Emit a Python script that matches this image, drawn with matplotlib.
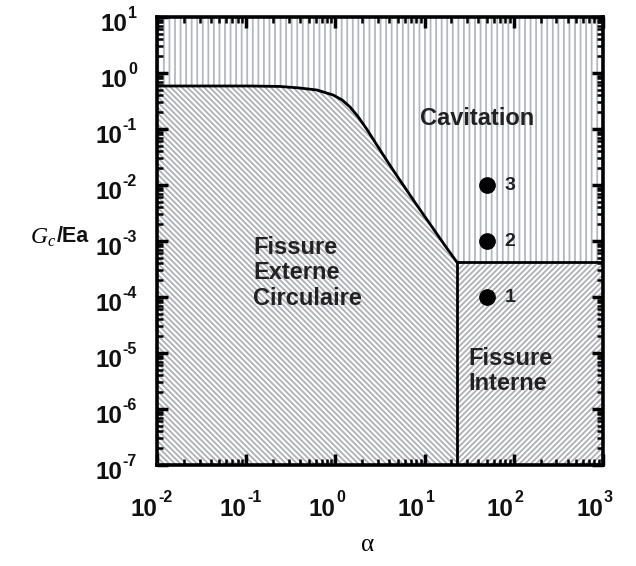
import matplotlib
matplotlib.use("Agg")
import matplotlib.pyplot as plt
import numpy as np
from matplotlib.ticker import LogLocator, NullFormatter

# ---------------- data ----------------
curve_alpha = [0.01, 0.11, 0.24, 0.40, 0.62, 0.94, 1.19, 1.46, 1.79, 2.26, 2.78,
               3.42, 4.31, 5.30, 8.22, 12.4, 16.9, 23.0]
curve_g = [0.586, 0.586, 0.575, 0.539, 0.497, 0.405, 0.330, 0.247, 0.167, 0.098,
           0.0584, 0.0348, 0.0198, 0.0121, 0.00433, 0.00169, 0.00083, 0.00042]
alpha_crit = 23.0
g_crit = 0.00042
pts_alpha = [50, 50, 50]
pts_g = [1e-4, 1e-3, 1e-2]
pts_labels = ["1", "2", "3"]
xlim = (1e-2, 1e3)
ylim = (1e-7, 1e1)
x_exps = [-2, -1, 0, 1, 2, 3]
y_exps = [-7, -6, -5, -4, -3, -2, -1, 0, 1]
region_labels = ["Cavitation", "Fissure\nExterne\nCirculaire", "Fissure\nInterne"]

# ---------------- style ----------------
plt.rcParams['font.family'] = ['Liberation Sans', 'DejaVu Sans']
plt.rcParams['mathtext.fontset'] = 'custom'
plt.rcParams['mathtext.rm'] = 'Liberation Serif'
plt.rcParams['mathtext.it'] = 'Liberation Serif:italic'
plt.rcParams['hatch.linewidth'] = 1.3

fig = plt.figure(figsize=(6.36, 5.66), dpi=100)
ax = fig.add_axes([157/636, 1-465/566, (603-157)/636, (465-17)/566])
ax.set_xscale('log')
ax.set_yscale('log')
ax.set_xlim(*xlim)
ax.set_ylim(*ylim)

ca = np.array(curve_alpha)
cg = np.array(curve_g)

# Cavitation region (vertical hatch)
up_x = np.concatenate([ca, [xlim[1]]])
up_y = np.concatenate([cg, [g_crit]])
ax.fill_between(up_x, up_y, ylim[1], facecolor='white', edgecolor='#b2b8c2',
                hatch='|||', linewidth=0, zorder=1)
# Fissure externe circulaire (\ hatch)
ax.fill_between(ca, ylim[0], cg, facecolor='white', edgecolor='#aeb0b6',
                hatch='\\' * 6, linewidth=0, zorder=1)
# Fissure interne (/ hatch)
ax.fill_between([alpha_crit, xlim[1]], ylim[0], g_crit, facecolor='white',
                edgecolor='#aeb0b6', hatch='/' * 6, linewidth=0, zorder=1)

# boundaries
ax.plot(ca, cg, color='black', lw=2.0, zorder=3, solid_joinstyle='round')
ax.plot([alpha_crit, xlim[1]], [g_crit, g_crit], color='black', lw=2.0, zorder=3)
ax.plot([alpha_crit, alpha_crit], [ylim[0], g_crit], color='black', lw=2.0, zorder=3)

# points
ax.plot(pts_alpha, pts_g, 'o', color='black', ms=11, zorder=4)
for a, g, t in zip(pts_alpha, pts_g, pts_labels):
    ax.text(a * 1.81, g, t, fontsize=14, fontweight='bold', ha='center',
            va='center', color='#222222', zorder=5)

# region labels
ax.text(38.6, 0.157, region_labels[0], fontsize=17, fontweight='bold',
        ha='center', va='center', color='#222222', zorder=5)
ax.text(0.119, 2.7e-4, region_labels[1], fontsize=17, fontweight='bold',
        ha='left', va='center', linespacing=1.12, color='#222222', zorder=5)
ax.text(30.7, 4.8e-6, region_labels[2], fontsize=17, fontweight='bold',
        ha='left', va='center', linespacing=1.12, color='#222222', zorder=5)

# ticks (labels drawn manually so the exponent minus is a short hyphen)
for axis in (ax.xaxis, ax.yaxis):
    axis.set_major_locator(LogLocator(base=10, numticks=20))
    axis.set_minor_locator(LogLocator(base=10, subs=np.arange(2, 10), numticks=20))
    axis.set_major_formatter(NullFormatter())
    axis.set_minor_formatter(NullFormatter())

ax.tick_params(which='major', direction='in', length=8, width=2.5,
               top=True, right=True)
ax.tick_params(which='minor', direction='in', length=4.5, width=1.8,
               top=True, right=True)
for s in ax.spines.values():
    s.set_linewidth(2.6)
    s.set_zorder(6)

BASE_FS = 17.5
EXP_FS = 11.5
for e in x_exps:
    xv = 10.0 ** e
    ax.annotate('10', xy=(xv, 0), xycoords=('data', 'axes fraction'),
                xytext=(0, -44), textcoords='offset pixels', ha='right',
                va='center', fontsize=BASE_FS, fontweight='bold', color='#111111',
                annotation_clip=False)
    ax.annotate('%d' % e, xy=(xv, 0), xycoords=('data', 'axes fraction'),
                xytext=(1, -32), textcoords='offset pixels', ha='left',
                va='center', fontsize=EXP_FS, fontweight='bold', color='#111111',
                annotation_clip=False)
for e in y_exps:
    yv = 10.0 ** e
    w = 15 if e < 0 else 10
    ax.annotate('10', xy=(0, yv), xycoords=('axes fraction', 'data'),
                xytext=(-20 - w, -7.5), textcoords='offset pixels', ha='right',
                va='center', fontsize=BASE_FS, fontweight='bold', color='#111111',
                annotation_clip=False)
    ax.annotate('%d' % e, xy=(0, yv), xycoords=('axes fraction', 'data'),
                xytext=(-20, 3), textcoords='offset pixels', ha='right',
                va='center', fontsize=EXP_FS, fontweight='bold', color='#111111',
                annotation_clip=False)

# axis labels
fig.text(368/636, 1-545/566, 'α', fontsize=18, ha='center', va='center',
         family='Liberation Serif')
fig.text(30/636, 1-238/566, r'$G_c$', fontsize=17, ha='left', va='center')
fig.text(57/636, 1-236/566, '/Ea', fontsize=15.5, fontweight='bold', ha='left',
         va='center', color='#111111')

fig.savefig('out.png', dpi=100)
